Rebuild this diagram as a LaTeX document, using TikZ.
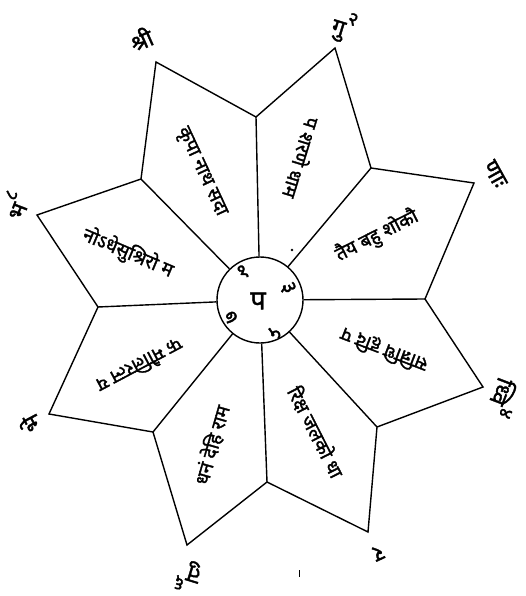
\documentclass[tikz,border=0pt]{standalone}
\usepackage{fontspec}
\newfontfamily\dev[Script=Devanagari,FakeBold=1.6]{Noto Sans}
\usetikzlibrary{calc}
\tikzset{
  outline/.style={line width=1.4pt,draw=black,line join=miter},
  hub/.style={circle,draw=black,line width=1.4pt,minimum size=86pt,inner sep=0pt},
  tiplab/.style={font=\dev\fontsize{23}{26}\selectfont,inner sep=0pt},
  ptext/.style={font=\dev\fontsize{19}{21}\selectfont,inner sep=0pt},
  num/.style={font=\dev\fontsize{21}{22}\selectfont,inner sep=0pt}
}
\newcommand{\tipnum}[1]{\raisebox{1.1ex}{\fontsize{19}{20}\selectfont #1}}

\begin{document}
\begin{tikzpicture}[x=1pt,y=-1pt]
  \useasboundingbox (0,0) rectangle (525,596);
  % tips of the petals
  \coordinate (t1) at (156,62);  \coordinate (t2) at (335,48);
  \coordinate (t3) at (474,183); \coordinate (t4) at (483,387);
  \coordinate (t5) at (368,532); \coordinate (t6) at (187,545);
  \coordinate (t7) at (49,414);  \coordinate (t8) at (37,215);
  % inner corners between the petals
  \coordinate (v1) at (256,117); \coordinate (v2) at (371,168);
  \coordinate (v3) at (425,299); \coordinate (v4) at (377,427);
  \coordinate (v5) at (267,482); \coordinate (v6) at (153,432);
  \coordinate (v7) at (98,307);  \coordinate (v8) at (141,179);
  \node[hub] (hub) at (260,300) {};
  \draw[outline] (v8) -- (t1) -- (v1) -- (t2) -- (v2) -- (t3) -- (v3) -- (t4)
    -- (v4) -- (t5) -- (v5) -- (t6) -- (v6) -- (t7) -- (v7) -- (t8) -- cycle;
  \foreach \i in {1,...,8} \draw[outline] (v\i) -- (hub);
  % centre letter and numbers
  \node[font=\dev\fontsize{27}{29}\selectfont,inner sep=0pt] (pa) at (258,301) {प};
  \node[num,rotate=31] (n1) at (243,272) {१};
  \node[num,rotate=-66] (n3) at (288,288) {३};
  \node[num,rotate=-156] (n5) at (275,333) {५};
  \node[num,rotate=121] (n7) at (231,317) {७};
  % letters at the tips
  \node[tiplab,rotate=24] (l1) at (141,39) {श्री};
  \node[tiplab,rotate=-17] (l2) at (344,27) {गु\tipnum{२}};
  \node[tiplab,rotate=-61] (l3) at (495,174) {णाः};
  \node[tiplab,rotate=-111] (l4) at (504,398) {ध्वि\tipnum{४}};
  \node[tiplab,rotate=-155] (l5) at (378,553) {र};
  \node[tiplab,rotate=163] (l6) at (188,576) {तु\tipnum{६}};
  \node[tiplab,rotate=118] (l7) at (30,424) {भे};
  \node[tiplab,rotate=69] (l8) at (15,205) {भ\tipnum{८}};
  % words in the petals
  \node[ptext,rotate=-65] (w1) at (201,172) {कृपा नाथ सदा};
  \node[ptext,rotate=-107] (w2) at (302,158) {प शरणे धाम};
  \node[ptext,rotate=27] (w3) at (377,236) {तैय बहु शोकौ};
  \node[ptext,rotate=159] (w4) at (384,350) {सन्निधि हृदि प};
  \node[ptext,rotate=-63] (w5) at (316,432) {रिक्ष जलको धा};
  \node[ptext,rotate=74] (w6) at (212,445) {धनं देहि राम};
  \node[ptext,rotate=208] (w7) at (140,366) {फ मौलिरत्न य};
  \node[ptext,rotate=-23] (w8) at (128,253) {नोऽधेसुश्रिरो म};
  % marks of the print
  \fill (292,250) circle (1.3pt);
  \draw[line width=.9pt] (299,570) -- (299,577);
\end{tikzpicture}
\end{document}
